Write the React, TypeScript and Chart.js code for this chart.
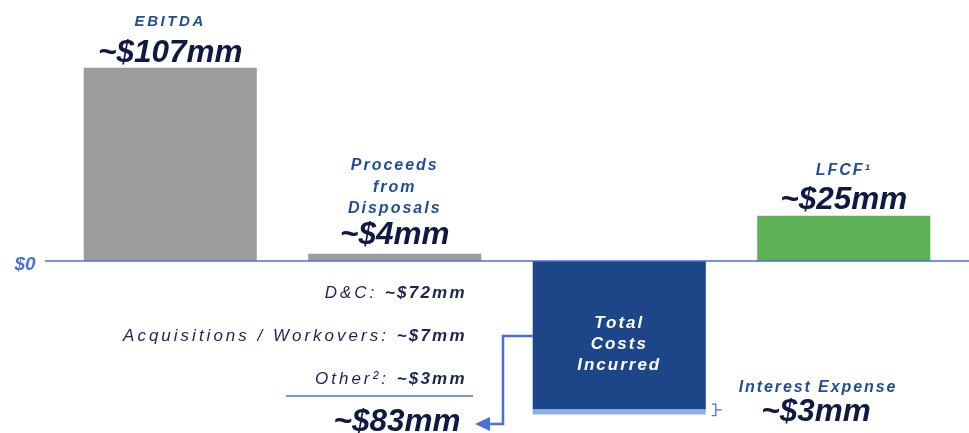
import React, { useEffect, useRef } from "react";
import { Chart, registerables } from "chart.js";

Chart.register(...registerables);

const categories = ["EBITDA", "Proceeds from Disposals", "Total Costs Incurred", "LFCF¹"];
const mainValues = [107, 4, -82, 25];
const interestValues = [0, 0, -3, 0];
const barColors = ["#9b9c9e", "#9b9c9e", "#1d4689", "#5db257"];
const bigLabels = ["~$107mm", "~$4mm", "", "~$25mm"];
const breakdownLabels = ["D&C:", "Acquisitions / Workovers:", "Other²:"];
const breakdownValues = ["~$72mm", "~$7mm", "~$3mm"];
const totalCostsLabel = "~$83mm";
const interestLabel = "~$3mm";

const BLUE_LABEL = "#1f4e96";
const NAVY = "#0e1a42";
const LINE_BLUE = "#4a6fd8";
const FONT = "'Liberation Sans', Arial, sans-serif";

const annotate = {
  id: "annotate",
  afterDatasetsDraw(chart: any) {
    const ctx = chart.ctx as CanvasRenderingContext2D;
    const y = chart.scales.y;
    const meta = chart.getDatasetMeta(0);
    const meta2 = chart.getDatasetMeta(1);
    const zeroY = y.getPixelForValue(0);
    ctx.save();
    // zero line
    ctx.strokeStyle = LINE_BLUE;
    ctx.lineWidth = 1.5;
    ctx.beginPath();
    ctx.moveTo(45, zeroY);
    ctx.lineTo(chart.width, zeroY);
    ctx.stroke();

    const txt = (s: string, cx: number, by: number, font: string, color: string, spacing = "0px", align: CanvasTextAlign = "center") => {
      ctx.font = font;
      (ctx as any).letterSpacing = spacing;
      ctx.fillStyle = color;
      ctx.textAlign = align;
      ctx.textBaseline = "alphabetic";
      ctx.fillText(s, cx, by);
    };
    const big = `italic bold 31.5px ${FONT}`;
    const mid = `italic bold 16px ${FONT}`;

    // $0
    txt("$0", 25, zeroY + 9, `italic bold 19px ${FONT}`, LINE_BLUE);

    // EBITDA
    const b0 = meta.data[0];
    txt("EBITDA", b0.x, b0.y - 42, `italic bold 15px ${FONT}`, BLUE_LABEL, "2.6px");
    txt(bigLabels[0], b0.x, b0.y - 6, big, NAVY);

    // Proceeds
    const b1 = meta.data[1];
    txt("Proceeds", b1.x, b1.y - 84, mid, BLUE_LABEL, "2px");
    txt("from", b1.x, b1.y - 62, mid, BLUE_LABEL, "2px");
    txt("Disposals", b1.x, b1.y - 41, mid, BLUE_LABEL, "2px");
    txt(bigLabels[1], b1.x, b1.y - 10, big, NAVY);

    // LFCF
    const b3 = meta.data[3];
    txt("LFCF¹", b3.x, b3.y - 41, mid, BLUE_LABEL, "2px");
    txt(bigLabels[3], b3.x, b3.y - 7, big, NAVY);

    // Total costs inner text
    const b2 = meta.data[2];
    const tFont = `italic bold 17px ${FONT}`;
    txt("Total", b2.x, zeroY + 67, tFont, "#ffffff", "2px");
    txt("Costs", b2.x, zeroY + 88, tFont, "#ffffff", "2px");
    txt("Incurred", b2.x, zeroY + 109, tFont, "#ffffff", "2px");

    // Breakdown (right aligned)
    const rightX = b2.x - b2.width / 2 - 66;
    const rows = [zeroY + 37, zeroY + 80, zeroY + 123];
    breakdownLabels.forEach((lab, i) => {
      ctx.font = `italic bold 17px ${FONT}`;
      (ctx as any).letterSpacing = "2.2px";
      const vw = ctx.measureText(breakdownValues[i]).width;
      txt(breakdownValues[i], rightX, rows[i], `italic bold 17px ${FONT}`, "#1b2550", "2.2px", "right");
      txt(lab + " ", rightX - vw, rows[i], `italic 17px ${FONT}`, "#1b2550", "3px", "right");
    });
    // underline
    ctx.strokeStyle = LINE_BLUE;
    ctx.lineWidth = 1.5;
    ctx.beginPath();
    ctx.moveTo(286, zeroY + 135);
    ctx.lineTo(473, zeroY + 135);
    ctx.stroke();
    // total
    txt(totalCostsLabel, 397, zeroY + 170, big, NAVY);

    // Arrow
    const leftEdge = b2.x - b2.width / 2;
    const ay = zeroY + 163;
    ctx.strokeStyle = LINE_BLUE;
    ctx.lineWidth = 2.5;
    ctx.beginPath();
    ctx.moveTo(leftEdge, zeroY + 75);
    ctx.lineTo(503, zeroY + 75);
    ctx.lineTo(503, ay);
    ctx.lineTo(488, ay);
    ctx.stroke();
    ctx.fillStyle = LINE_BLUE;
    ctx.beginPath();
    ctx.moveTo(475, ay);
    ctx.lineTo(490, ay - 7);
    ctx.lineTo(490, ay + 7);
    ctx.closePath();
    ctx.fill();

    // bracket for interest
    const ib = meta2.data[2];
    const bTop = y.getPixelForValue(mainValues[2]) - 5;
    const bBot = y.getPixelForValue(mainValues[2] + interestValues[2]) + 1;
    const bx = ib.x + ib.width / 2 + 6;
    ctx.lineWidth = 1.3;
    ctx.beginPath();
    ctx.moveTo(bx, bTop);
    ctx.lineTo(bx + 4, bTop);
    ctx.lineTo(bx + 4, bBot);
    ctx.lineTo(bx, bBot);
    ctx.moveTo(bx + 4, (bTop + bBot) / 2);
    ctx.lineTo(bx + 10, (bTop + bBot) / 2);
    ctx.stroke();

    txt("Interest Expense", 818, zeroY + 131, mid, BLUE_LABEL, "1.9px");
    txt(interestLabel, 816, zeroY + 160, big, NAVY);

    ctx.restore();
  },
};

export default function App() {
  const ref = useRef<HTMLCanvasElement>(null);
  useEffect(() => {
    document.body.style.margin = "0";
    const chart = new Chart(ref.current!, {
      type: "bar",
      data: {
        labels: categories,
        datasets: [
          {
            data: mainValues,
            backgroundColor: barColors,
            barPercentage: 0.771,
            categoryPercentage: 1,
          },
          {
            data: interestValues,
            backgroundColor: "#8eafe6",
            barPercentage: 0.771,
            categoryPercentage: 1,
          },
        ],
      },
      options: {
        animation: false,
        responsive: false,
        layout: { padding: { left: 58, right: 13, top: 0, bottom: 0 } },
        plugins: { legend: { display: false }, tooltip: { enabled: false } },
        scales: {
          x: { display: false, stacked: true },
          y: { display: false, stacked: true, min: -95.2, max: 144.5 },
        },
      },
      plugins: [annotate],
    });
    return () => chart.destroy();
  }, []);
  return (
    <div style={{ width: 969, height: 433 }}>
      <canvas ref={ref} width={969} height={433} />
    </div>
  );
}
